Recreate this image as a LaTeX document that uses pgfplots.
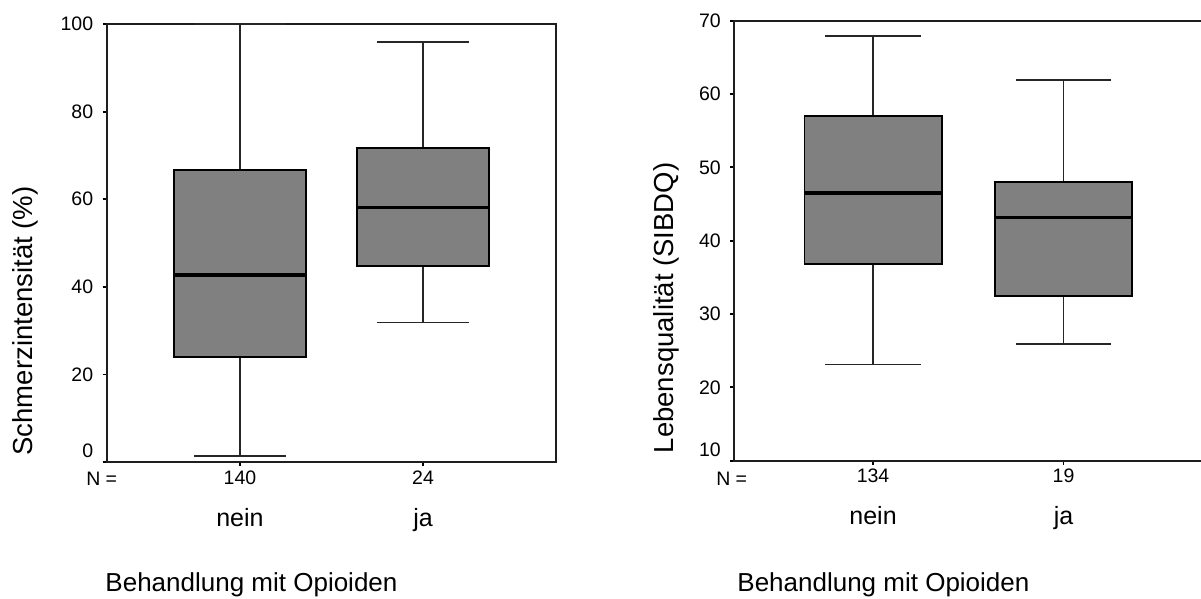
\documentclass[border=0pt]{standalone}
\usepackage{fontspec}
\setmainfont{Liberation Sans}
\usepackage{pgfplots}
\pgfplotsset{compat=1.18}
\usepgfplotslibrary{statistics}

\definecolor{boxgray}{RGB}{128,128,128}
\definecolor{framegray}{RGB}{30,30,30}

\newcommand\ticksize{\fontsize{19.5}{22}\selectfont}
\newcommand\labelsize{\fontsize{26}{30}\selectfont}
\newcommand\ylabelsize{\fontsize{27.5}{30}\selectfont}

\pgfplotsset{
  spssbox/.style={
    scale only axis,
    clip=false,
    xmin=-0.728, xmax=1.728,
    xtick={0,1},
    tick pos=left,
    tick align=outside,
    major tick length=4pt,
    tick style={black, line width=1.8pt},
    axis line style={framegray, line width=1.8pt},
    /pgf/number format/assume math mode=true,
    tick label style={font=\ticksize},
    xticklabel style={anchor=base, yshift=-18pt},
    yticklabel style={xshift=-6pt},
    yticklabel={\ifnum\ticknum=0 \raisebox{11pt}[\height][\depth]{\pgfmathprintnumber{\tick}}\else\pgfmathprintnumber{\tick}\fi},
    extra x ticks={0,1},
    extra x tick labels={nein,ja},
    extra x tick style={major tick length=0pt,
      xticklabel style={font=\fontsize{25}{30}\selectfont, anchor=base, yshift=-46pt}},
    boxplot/draw direction=y,
    boxplot/box extend=0.72,
    boxplot/whisker extend=0.5,
    boxplot/every box/.style={draw=black, line width=1.8pt, fill=boxgray},
    boxplot/every median/.style={draw=black, line width=3.2pt},
    boxplot/every whisker/.style={draw=black!85, line width=1.3pt},
  },
}

\begin{document}
\begin{tikzpicture}
\useasboundingbox (0,0) rectangle (1201pt,598pt);

% Schmerzintensitaet nach Opioidbehandlung
\begin{axis}[spssbox,
  at={(106.7pt,136pt)}, anchor=south west,
  width=449.6pt, height=438pt,
  ymin=0, ymax=100, ytick={0,20,40,60,80,100},
  xticklabels={140,24},
  ylabel={Schmerzintensität (\%)},
  every axis y label/.style={at={(rel axis cs:0,0)}, xshift=-73.7pt, yshift=3pt,
    rotate=90, anchor=base west, font=\ylabelsize},
  xlabel={Behandlung mit Opioiden},
  every axis x label/.style={at={(rel axis cs:0.322,0)}, yshift=-129.7pt,
    anchor=base, font=\labelsize},
]
\addplot[boxplot prepared={draw position=0,
  lower whisker=1.4, lower quartile=24.0, median=42.7,
  upper quartile=66.7, upper whisker=100}] coordinates {};
\addplot[boxplot prepared={draw position=1,
  lower whisker=31.9, lower quartile=44.8, median=58.1,
  upper quartile=71.7, upper whisker=95.9}] coordinates {};
\node[font=\ticksize, anchor=base, xshift=-5pt, yshift=-23.7pt]
  at (rel axis cs:0,0) {N =};
\end{axis}

% Lebensqualitaet nach Opioidbehandlung
\begin{axis}[spssbox,
  at={(734.3pt,137.3pt)}, anchor=south west,
  width=468pt, height=440pt,
  ymin=10, ymax=70, ytick={10,20,30,40,50,60,70},
  xticklabels={134,19},
  ylabel={Lebensqualität (SIBDQ)},
  every axis y label/.style={at={(rel axis cs:0,0)}, xshift=-61.3pt, yshift=4pt,
    rotate=90, anchor=base west, font=\ylabelsize},
  xlabel={Behandlung mit Opioiden},
  every axis x label/.style={at={(rel axis cs:0.3186,0)}, yshift=-131pt,
    anchor=base, font=\labelsize},
]
\addplot[boxplot prepared={draw position=0,
  lower whisker=23.1, lower quartile=36.8, median=46.5,
  upper quartile=57.0, upper whisker=67.9}] coordinates {};
\addplot[boxplot prepared={draw position=1,
  lower whisker=25.9, lower quartile=32.5, median=43.2,
  upper quartile=48.0, upper whisker=61.9}] coordinates {};
\node[font=\ticksize, anchor=base, xshift=-2.6pt, yshift=-24.3pt]
  at (rel axis cs:0,0) {N =};
\end{axis}
\end{tikzpicture}
\end{document}
